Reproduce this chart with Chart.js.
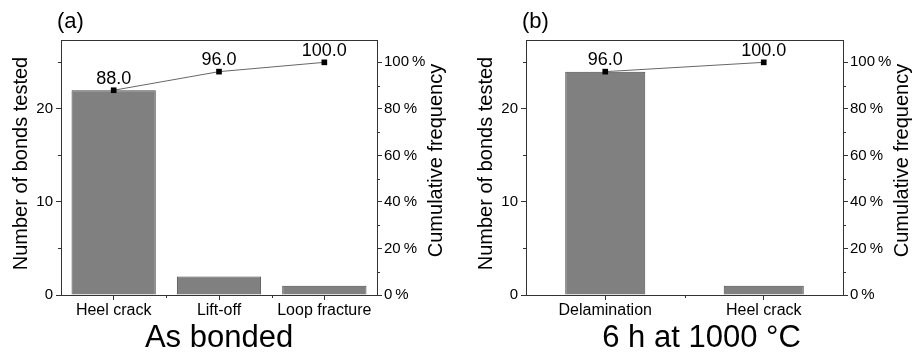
<!DOCTYPE html>
<html>
<head>
<meta charset="utf-8">
<script src="https://cdn.jsdelivr.net/npm/chart.js@4.4.1/dist/chart.umd.min.js"></script>
<style>
  body { margin: 0; background: #fff; }
  #wrap { display: flex; width: 915px; height: 357px; }
  canvas { display: block; }
</style>
</head>
<body>
<div id="wrap">
  <canvas id="painel_a" width="457" height="357"></canvas>
  <canvas id="painel_b" width="458" height="357"></canvas>
</div>
<script>
// dados
const labels_a = ['Heel crack', 'Lift-off', 'Loop fracture'];
const contagem_a = [22, 2, 1];
const acumulado_a = [88.0, 96.0, 100.0];

const labels_b = ['Delamination', 'Heel crack'];
const contagem_b = [24, 1];
const acumulado_b = [96.0, 100.0];

const ticks_contagem = [0, 10, 20];
const ticks_contagem_menor = [5, 15, 25];
const ticks_pct = [0, 20, 40, 60, 80, 100];
const ticks_pct_menor = [10, 30, 50, 70, 90];

const fonte = 'Liberation Sans, Arial, sans-serif';
const cor_eixo = '#333';

// desenha moldura, ticks menores, rotulos e titulos
const painel_plugin = {
    id: 'painel',
    afterDraw(chart, args, opts){
        const ctx = chart.ctx;
        const area = chart.chartArea;
        const sx = chart.scales.x, sy = chart.scales.y, sy1 = chart.scales.y1;
        ctx.save();
        ctx.strokeStyle = cor_eixo;
        ctx.lineWidth = 1;
        ctx.beginPath();
        ctx.moveTo(area.left, area.top + 0.5);
        ctx.lineTo(area.right, area.top + 0.5);
        // ticks menores
        ticks_contagem_menor.forEach(v => {
            let y = Math.round(sy.getPixelForValue(v)) + 0.5;
            ctx.moveTo(area.left - 3, y); ctx.lineTo(area.left, y);
        })
        ticks_pct_menor.forEach(v => {
            let y = Math.round(sy1.getPixelForValue(v)) + 0.5;
            ctx.moveTo(area.right, y); ctx.lineTo(area.right + 3, y);
        })
        for(let i = 0; i < chart.data.labels.length - 1; i++){
            let x = Math.round((sx.getPixelForValue(i) + sx.getPixelForValue(i + 1)) / 2) + 0.5;
            ctx.moveTo(x, area.bottom); ctx.lineTo(x, area.bottom + 3);
        }
        ctx.stroke();

        // valores acumulados
        const meta = chart.getDatasetMeta(1);
        ctx.fillStyle = '#000';
        ctx.font = '18px ' + fonte;
        ctx.textAlign = 'center';
        ctx.textBaseline = 'alphabetic';
        meta.data.forEach((p, i) => {
            ctx.fillText(chart.data.datasets[1].data[i].toFixed(1), p.x, p.y - 6.5);
        })

        // letra do painel
        ctx.textAlign = 'left';
        ctx.font = '22px ' + fonte;
        ctx.fillText(opts.letra, area.left - 4, 28);

        // titulo inferior
        ctx.textAlign = 'center';
        ctx.font = '31px ' + fonte;
        ctx.fillText(opts.titulo, (area.left + area.right) / 2 + opts.desloc, 347);

        // titulos dos eixos
        ctx.font = '20px ' + fonte;
        ctx.textBaseline = 'middle';
        let meio = (area.top + area.bottom) / 2 - 4;
        ctx.save();
        ctx.translate(area.left - 40, meio);
        ctx.rotate(-Math.PI / 2);
        ctx.fillText('Number of bonds tested', 0, 0);
        ctx.restore();
        ctx.save();
        ctx.translate(area.right + 59, meio - 3);
        ctx.rotate(-Math.PI / 2);
        ctx.fillText('Cumulative frequency', 0, 0);
        ctx.restore();
        ctx.restore();
    }
}

function renderiza_painel(id, labels, contagem, acumulado, largura_barra, esq, dir, letra, titulo, desloc){
    const ctx = document.getElementById(id).getContext('2d');
    const myChart = new Chart(ctx, {
        type: 'bar',
        data: {
            labels: labels,
            datasets: [{
                type: 'bar',
                data: contagem,
                yAxisID: 'y',
                backgroundColor: '#808080',
                borderColor: '#4a4a4a',
                borderWidth: 1,
                barPercentage: largura_barra,
                categoryPercentage: 1,
                order: 1
            }, {
                type: 'line',
                data: acumulado,
                yAxisID: 'y1',
                borderColor: '#666',
                borderWidth: 1,
                pointStyle: 'rect',
                pointRadius: 4,
                pointBackgroundColor: '#000',
                pointBorderColor: '#000',
                pointBorderWidth: 0,
                fill: false,
                tension: 0,
                order: 0
            }]
        },
        options: {
            responsive: false,
            animation: false,
            layout: { padding: { top: 40, left: 0, right: 0, bottom: 0 } },
            plugins: {
                legend: { display: false },
                tooltip: { enabled: false },
                painel: { letra: letra, titulo: titulo, desloc: desloc }
            },
            scales: {
                x: {
                    offset: true,
                    grid: { offset: false, drawOnChartArea: false, drawTicks: true, tickLength: 5, color: cor_eixo },
                    border: { color: cor_eixo, width: 1 },
                    ticks: { color: '#000', font: { family: fonte, size: 16 }, padding: 1, maxRotation: 0, autoSkip: false },
                    afterFit: function(s){ s.height = 62 }
                },
                y: {
                    position: 'left',
                    min: 0,
                    max: 27.4,
                    grid: { drawOnChartArea: false, drawTicks: true, tickLength: 5, color: cor_eixo },
                    border: { color: cor_eixo, width: 1 },
                    ticks: { color: '#000', font: { family: fonte, size: 15 }, padding: 3 },
                    afterBuildTicks: function(s){ s.ticks = ticks_contagem.map(v => ({ value: v })) },
                    afterFit: function(s){ s.width = esq }
                },
                y1: {
                    position: 'right',
                    min: 0,
                    max: 109.6,
                    grid: { drawOnChartArea: false, drawTicks: true, tickLength: 5, color: cor_eixo },
                    border: { color: cor_eixo, width: 1 },
                    ticks: {
                        color: '#000', font: { family: fonte, size: 15 }, padding: 2,
                        callback: function(v){ return v + '\u2009%' }
                    },
                    afterBuildTicks: function(s){ s.ticks = ticks_pct.map(v => ({ value: v })) },
                    afterFit: function(s){ s.width = dir }
                }
            }
        },
        plugins: [painel_plugin]
    });
}

renderiza_painel('painel_a', labels_a, contagem_a, acumulado_a, 0.8, 61, 80, '(a)', 'As bonded', 0);
renderiza_painel('painel_b', labels_b, contagem_b, acumulado_b, 0.505, 69, 72, '(b)', '6 h at 1000 °C', 17);
</script>
</body>
</html>
